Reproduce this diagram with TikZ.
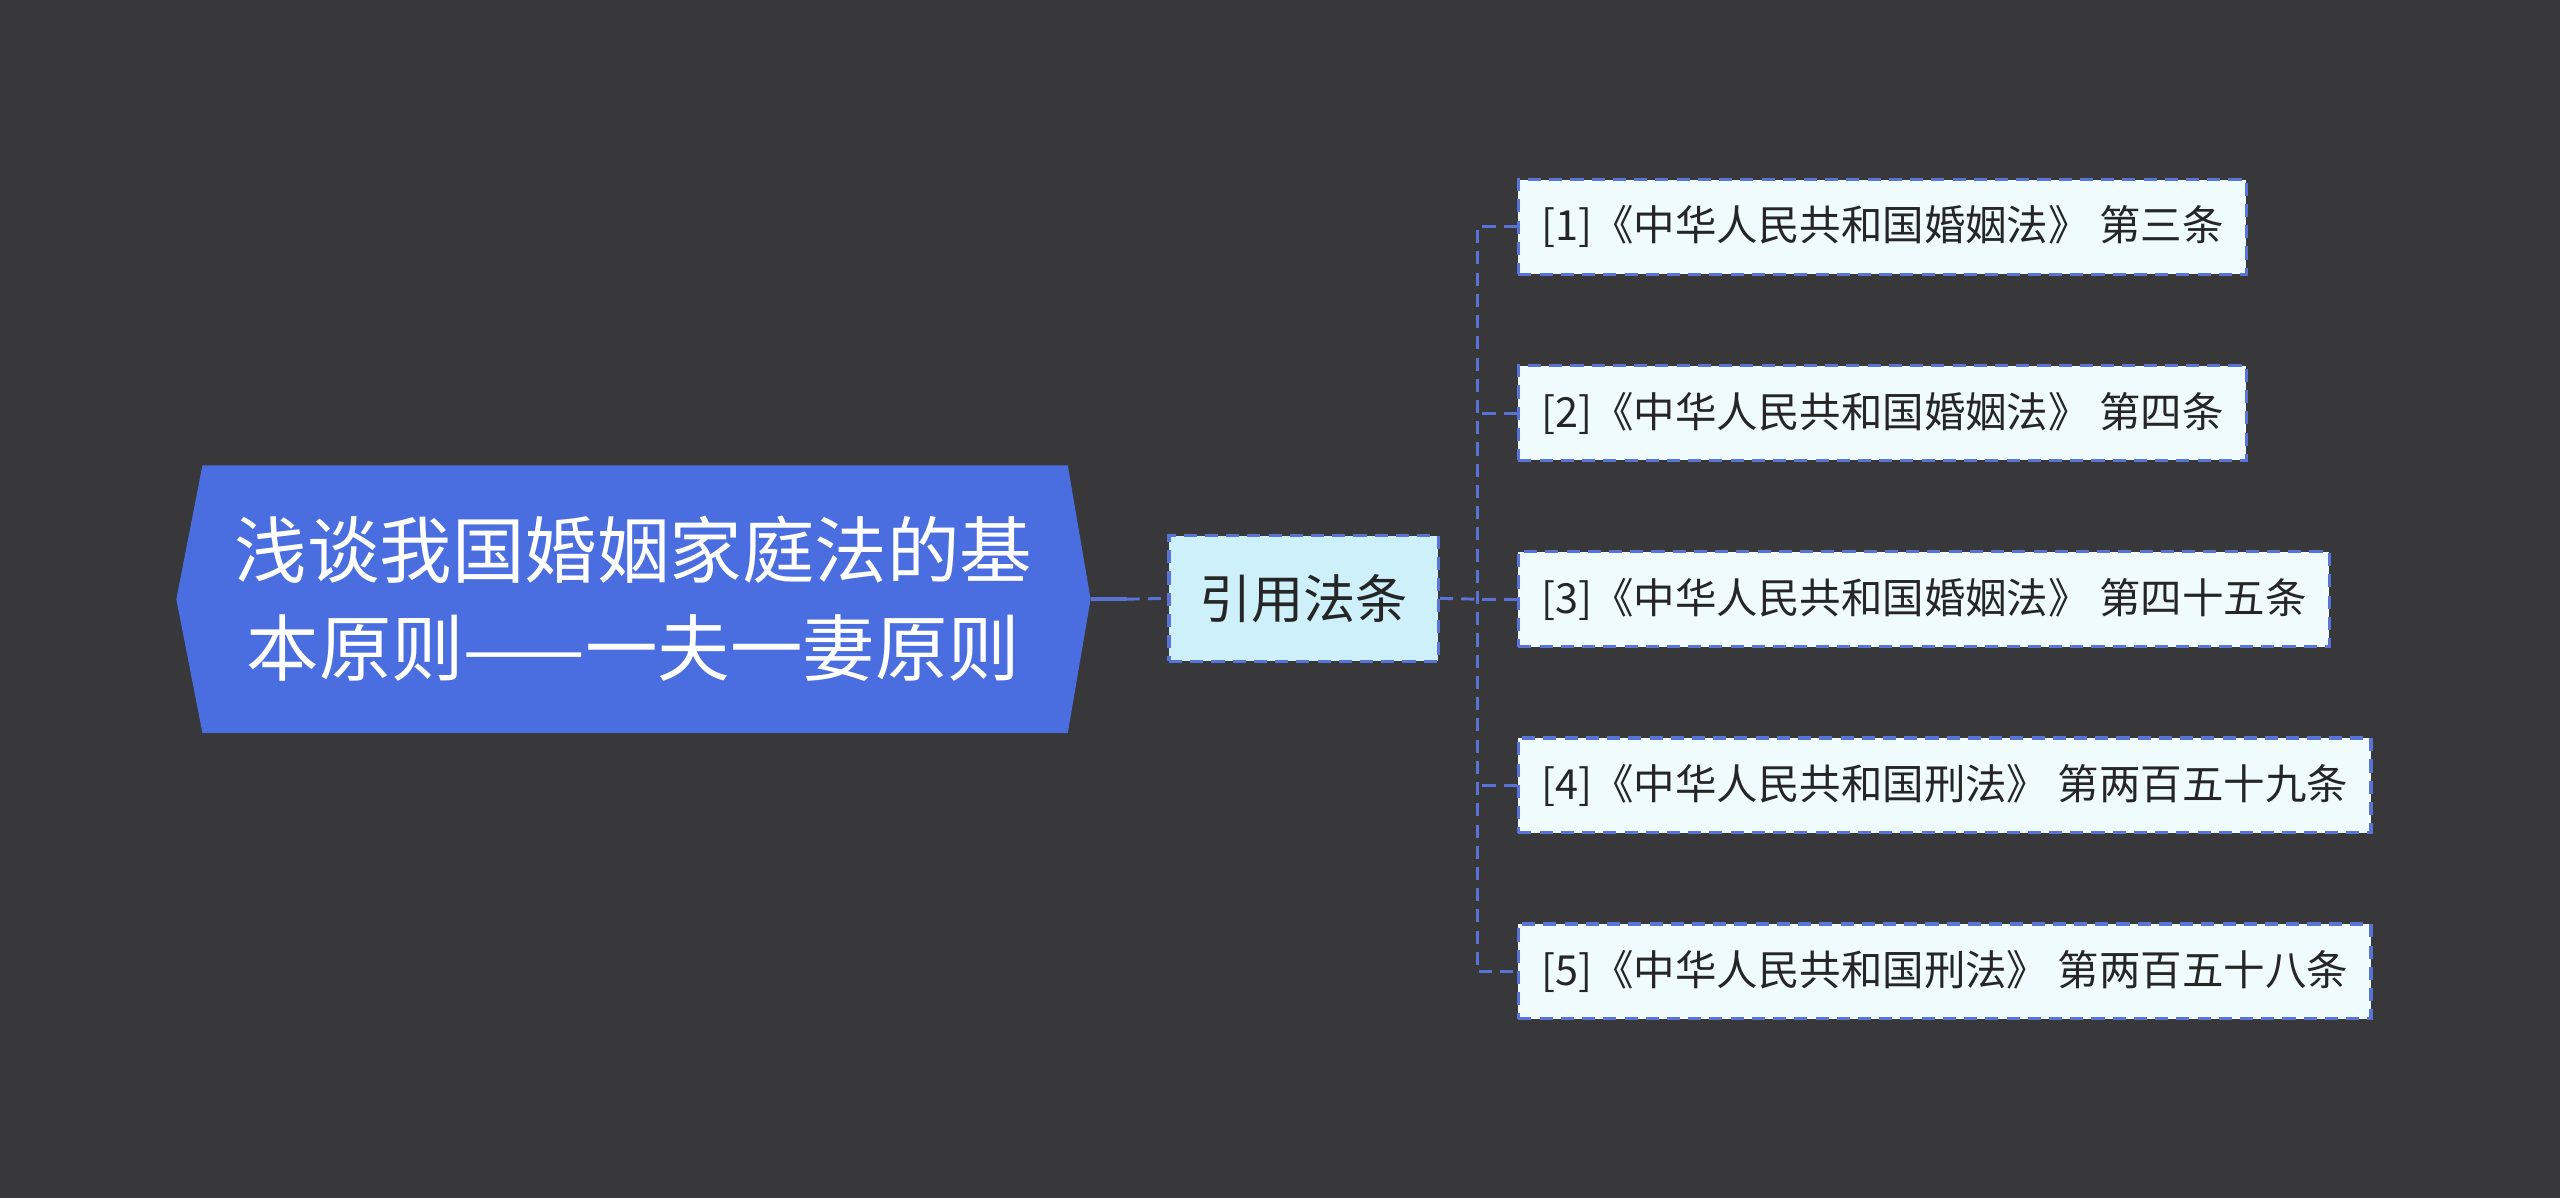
\documentclass[tikz,border=0pt]{standalone}
\usepackage{fontspec}
\setmainfont{Noto Sans CJK SC}
\definecolor{bg}{HTML}{38373A}
\definecolor{rootc}{HTML}{4A6EE0}
\definecolor{linec}{HTML}{5A73D6}
\definecolor{midc}{HTML}{CDF0FB}
\definecolor{leafc}{HTML}{F0FBFD}
\begin{document}
\begin{tikzpicture}[x=0.5pt,y=-0.5pt,
  leaf/.style={draw=linec,dash pattern=on 4pt off 2.5pt,line width=1pt,fill=leafc,anchor=west,minimum height=29pt,inner xsep=7pt,font=\fontsize{12.7pt}{15pt}\selectfont,text=black!85},
  conn/.style={draw=linec,dash pattern=on 4pt off 2.5pt,line width=0.9pt}]
\fill[bg] (0,0) rectangle (1568,734);
\useasboundingbox (0,0) rectangle (1568,734);
\fill[rootc] (108,367) -- (124,285) -- (654,285) -- (668,367) -- (654,449) -- (124,449) -- cycle;
\node[text=white,align=center,font=\fontsize{22.2pt}{30pt}\selectfont] (root) at (388,367) {浅谈我国婚姻家庭法的基\\本原则——一夫一妻原则};
\coordinate (rootR) at (668,367);
\node[draw=linec,dash pattern=on 4pt off 2.5pt,line width=1pt,fill=midc,minimum width=82.5pt,minimum height=38.5pt,font=\fontsize{16pt}{20pt}\selectfont,text=black!85] (mid) at (798.5,366.5) {引用法条};
\draw[linec,line width=1.2pt] (rootR) -- (690,367);
\draw[conn] (690,367) -- (mid.west);
\coordinate (j) at (905,367);
\draw[conn] (mid.east) -- (j);
\node[leaf] (l1) at (929,139) {[1]《中华人民共和国婚姻法》 第三条};
\node[leaf] (l2) at (929,253) {[2]《中华人民共和国婚姻法》 第四条};
\node[leaf] (l3) at (929,367) {[3]《中华人民共和国婚姻法》 第四十五条};
\node[leaf] (l4) at (929,481) {[4]《中华人民共和国刑法》 第两百五十九条};
\node[leaf] (l5) at (929,595) {[5]《中华人民共和国刑法》 第两百五十八条};
\draw[conn] (l1.west) -- (905,139) -- (905,595) -- (l5.west);
\foreach \n in {l2,l3,l4} \draw[conn] (\n.west) -- (\n.west -| j);
\end{tikzpicture}
\end{document}
